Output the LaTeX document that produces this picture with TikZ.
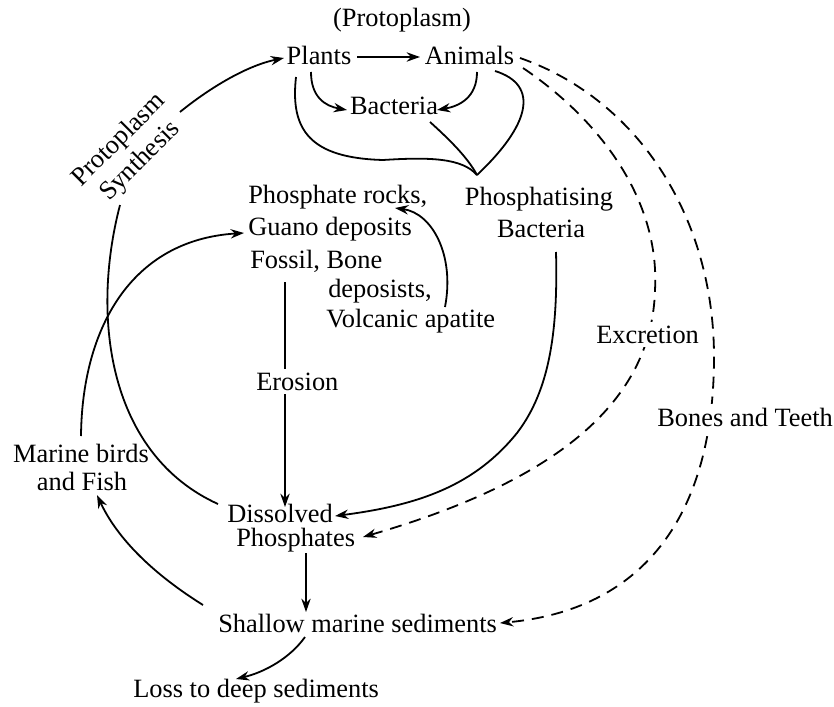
\documentclass[tikz,border=0pt]{standalone}
\usepackage{fontspec}
\setmainfont{Liberation Serif}
\usetikzlibrary{arrows.meta}
\begin{document}
\begin{tikzpicture}[x=0.75pt,y=-0.75pt,
  lbl/.style={font=\fontsize{19.8pt}{24pt}\selectfont, inner sep=0pt, anchor=base},
  lblw/.style={lbl, anchor=base west},
  conn/.style={line width=1.35pt},
  con/.style={conn, -{Stealth[length=10pt,width=7pt]}},
  dsh/.style={con, dash pattern=on 9pt off 6pt},
  gap/.style={fill=white, inner sep=3pt}]
\useasboundingbox (0,0) rectangle (834,706);

% text nodes
\node[lbl] (proto) at (402,27) {(Protoplasm)};
\node[lbl] (plants) at (319,65) {Plants};
\node[lbl] (animals) at (469.5,65) {Animals};
\node[lbl] (bact) at (394,115) {Bacteria};
\node[lbl] (phb1) at (539,205) {Phosphatising};
\node[lbl] (phb2) at (541,237) {Bacteria};
\node[lblw] (rock1) at (248,203) {Phosphate rocks,};
\node[lblw] (rock2) at (248,235) {Guano deposits};
\node[lblw] (rock3) at (250,268) {Fossil, Bone};
\node[lblw] (rock4) at (328,297) {deposists,};
\node[lblw] (rock5) at (326,327) {Volcanic apatite};
\node[lblw] (diss1) at (227,522) {Dissolved};
\node[lblw] (diss2) at (236,546) {Phosphates};
\node[lblw] (shal) at (218,632) {Shallow marine sediments};
\node[lblw] (loss) at (133,697) {Loss to deep sediments};
\node[lbl] (mar1) at (81,462) {Marine birds};
\node[lbl] (mar2) at (82,490) {and Fish};
\node[font=\fontsize{19.8pt}{22.5pt}\selectfont, rotate=45, align=center, inner sep=0pt]
  (synth) at (130,151) {Protoplasm\\Synthesis};

% endpoints
\coordinate (apex) at (477,175);
\coordinate (pA1) at (357,57);   \coordinate (pA2) at (420,57);
\coordinate (pB1) at (311,72);   \coordinate (pB2) at (347,110);
\coordinate (aB1) at (477,72);   \coordinate (aB2) at (437,110);
\coordinate (pX) at (296,77);
\coordinate (bX) at (430,122);
\coordinate (aX) at (495,71);
\coordinate (sy1) at (218,504);  \coordinate (sy2) at (120,205);
\coordinate (sy3) at (180,112);  \coordinate (sy4) at (284,58);
\coordinate (mg1) at (81,436);   \coordinate (mg2) at (244,233);
\coordinate (vr1) at (445,307);  \coordinate (vr2) at (395,208);
\coordinate (er1) at (285,282);  \coordinate (er2) at (285,507);
\coordinate (pd1) at (556,252);  \coordinate (pd2) at (335,516);
\coordinate (ex1) at (523,68);   \coordinate (ex2) at (363,537);
\coordinate (bt1) at (520,58);   \coordinate (bt2) at (500,623);
\coordinate (ds1) at (306,553);  \coordinate (ds2) at (306,612);
\coordinate (sl1) at (305,637);  \coordinate (sl2) at (236,679);
\coordinate (sm1) at (203,605);  \coordinate (sm2) at (97,495);

% connectors
\draw[con] (pA1) -- (pA2);
\draw[con] (pB1) .. controls (311,97) and (325,106) .. (pB2);
\draw[con] (aB1) .. controls (477,97) and (460,106) .. (aB2);
\draw[conn] (pX) .. controls (290,130) and (310,158) .. (383,160)
  .. controls (430,157) and (462,158) .. (apex);
\draw[conn] (bX) .. controls (450,140) and (468,158) .. (apex);
\draw[conn] (aX) .. controls (540,85) and (530,125) .. (apex);
\draw[conn] (sy1) .. controls (110,455) and (90,320) .. (sy2);
\draw[con] (sy3) .. controls (207,90) and (245,66) .. (sy4);
\draw[con] (mg1) .. controls (82,330) and (130,240) .. (mg2);
\draw[con] (vr1) .. controls (455,255) and (432,213) .. (vr2);
\draw[con] (er1) -- (er2);
\draw[con] (pd1) .. controls (558,330) and (550,390) .. (517,433)
  .. controls (475,485) and (420,505) .. (pd2);
\draw[dsh] (ex1) .. controls (600,120) and (660,200) .. (655,290)
  .. controls (652,400) and (560,480) .. (ex2);
\draw[dsh] (bt1) .. controls (640,100) and (715,220) .. (714,360)
  .. controls (713,520) and (640,610) .. (bt2);
\draw[con] (ds1) -- (ds2);
\draw[con] (sl1) .. controls (290,658) and (265,672) .. (sl2);
\draw[con] (sm1) .. controls (155,575) and (118,540) .. (sm2);

% labels on connectors
\node[lblw, gap] (eros) at (252,390) {Erosion};
\node[lblw, gap] (excr) at (592,343) {Excretion};
\node[lblw, gap] (bones) at (653,426) {Bones and Teeth};
\end{tikzpicture}
\end{document}
